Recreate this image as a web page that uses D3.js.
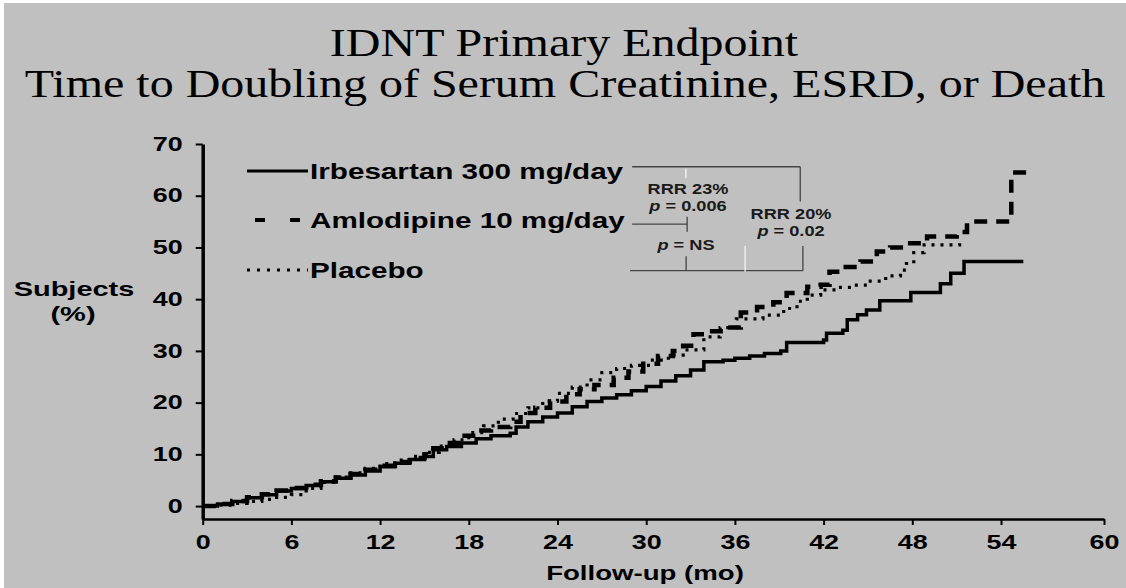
<!DOCTYPE html>
<html lang="en">
<head>
<meta charset="utf-8">
<title>IDNT Primary Endpoint</title>
<script src="https://cdn.jsdelivr.net/npm/d3@7/dist/d3.min.js"></script>
<style>
    body { margin: 0; background: #fff; }
    svg { display: block; }
    .sans { font-family: Arial, "Liberation Sans", sans-serif; font-weight: bold; }
    .serif { font-family: "Times New Roman", "Liberation Serif", serif; }
    .axis path, .axis line { stroke: #000; }
</style>
</head>
<body>
<svg></svg>
<script>
    // months / cumulative %
    var irbesartan = [[0,0],[1,0.4],[2,0.9],[3,1.6],[4,2.2],[5,2.9],[6,3.4],[7,4.0],[8,4.7],[9,5.4],[10,6.0],[11,6.8],[12,7.6],
        [13,8.3],[14,9.0],[15,9.6],[15.6,10.9],[16.5,11.5],[17.5,12.2],[18.5,13.0],[19.5,13.6],[20.8,14.1],[21.2,15.3],[22,16.3],
        [23,17.2],[24,18.0],[25,19.2],[26,20.2],[27,20.9],[28,21.5],[29,22.3],[30,23.1],[31,24.2],[32,25.2],[33,26.3],[33.9,27.9],
        [35.2,28.2],[36,28.6],[37,29.0],[38,29.5],[39.1,30.0],[39.5,31.6],[42,32.1],[42.2,33.4],[43.3,34.0],[43.6,36.0],[44.3,37.0],
        [44.9,37.9],[45.8,39.7],[47.9,41.3],[49.9,43.0],[50.6,45.0],[51.5,47.3],[55.3,47.3]];

    var amlodipine = [[0,0],[1,0.4],[2,1.0],[3,1.7],[4,2.3],[5,3.0],[6,3.5],[7,4.1],[8,4.8],[9,5.5],[10,6.2],[11,7.0],[12,7.8],
        [13,8.5],[14,9.3],[15,10.0],[15.6,11.2],[16.5,12.2],[17.5,13.6],[18.5,14.6],[19.5,15.3],[20.8,16.3],[21.5,18.0],[22.5,19.0],
        [23.5,20.2],[24.6,21.6],[25.5,22.6],[26.5,23.4],[27.8,24.8],[28.8,26.0],[29.8,27.5],[30.8,29.0],[31.8,30.0],[32.5,31.0],
        [33.2,33.2],[34.2,33.8],[35.2,34.5],[36.4,37.4],[37.5,38.5],[38.6,39.4],[39.5,41.2],[40.9,42.4],[41.8,42.8],[42.4,45.3],
        [43.5,46.2],[44.5,47.3],[45.6,49.2],[46.5,50.0],[47.4,50.8],[49,52.1],[51,53.0],[51.7,55.0],[54.6,55.3],[54.6,64.5],[55.8,64.5]];

    var placebo = [[0,0],[1,0.2],[2,0.5],[3,0.9],[4,1.3],[5,1.7],[6,2.2],[7,3.4],[8,4.6],[9,5.6],[10,6.4],[11,7.3],[12,8.2],
        [13,8.9],[14,9.6],[15,10.4],[16,11.6],[17,12.8],[18,14.2],[19,15.5],[20,16.8],[21,17.9],[22,19.0],[23,20.3],[24,21.8],
        [25,23.0],[26,24.4],[27,25.8],[28,26.6],[29,27.2],[30.3,28.2],[31.5,29.2],[32.5,30.2],[33.9,32.7],[35,34.5],[36.1,36.2],
        [37.9,36.9],[39.3,38.2],[40.2,39.6],[40.9,40.8],[41.8,41.8],[43,42.3],[44,42.7],[45,43.5],[46.2,44.5],[47.2,45.6],
        [47.6,46.9],[48.1,49.0],[48.8,50.5],[51.2,50.8]];

    var xTicks = [0, 6, 12, 18, 24, 30, 36, 42, 48, 54, 60];
    var yTicks = [0, 10, 20, 30, 40, 50, 60, 70];
    var seriesNames = ["Irbesartan 300 mg/day", "Amlodipine 10 mg/day", "Placebo"];
    var titleLines = ["IDNT Primary Endpoint", "Time to Doubling of Serum Creatinine, ESRD, or Death"];

    // bracket lines of the p-value annotation, in data units [m1, v1, m2, v2]
    var brackets = [[29.05,65.6,40.42,65.6],[40.42,65.6,40.42,58.9],
        [29.05,54.5,32.77,54.5],[32.77,55.95,32.77,53.05],
        [28.91,45.5,40.6,45.5],[32.7,48.3,32.7,45.5],[40.6,50.3,40.6,45.5]];
    var whiteMarks = [[32.68,65.2,32.68,63.4],[36.69,50.3,36.69,45.3]];

    var W = 1126, H = 588;
    var sx = 1.38; // the bold sans text of the slide is stretched sideways

    var svg = d3.select("svg").attr("width", W).attr("height", H);
    svg.append("rect").attr("x", 4).attr("y", 3).attr("width", W).attr("height", H).attr("fill", "#c0c0c0");

    var x = d3.scaleLinear().domain([0, 54, 60]).range([202.7, 1001, 1104]);
    var y = d3.scaleLinear().domain([-2.5, 70]).range([519, 144]);

    function label(txt, px, py, size, cls, anchor, stretch) {
        return svg.append("text")
            .attr("class", cls)
            .attr("transform", "translate(" + px + "," + py + ") scale(" + (stretch || sx) + ",1)")
            .attr("text-anchor", anchor || "middle")
            .style("font-size", size + "px")
            .text(txt);
    }

    // title
    label(titleLines[0], 564, 56, 40, "serif", "middle", 1.2);
    label(titleLines[1], 565, 97, 40, "serif", "middle", 1.2);

    // axes
    var xAxis = svg.append("g").attr("class", "axis")
        .attr("transform", "translate(0," + y(-2.5) + ")")
        .call(d3.axisBottom(x).tickValues(xTicks).tickSize(6).tickSizeOuter(0).tickPadding(10));
    xAxis.select(".domain").attr("stroke-width", 2.5);
    xAxis.selectAll(".tick line").attr("stroke-width", 2);
    xAxis.selectAll("text")
        .attr("class", "sans")
        .attr("fill", "#000")
        .style("font-size", "19.5px")
        .attr("transform", "scale(" + sx + ",1)");

    var yAxis = svg.append("g").attr("class", "axis")
        .attr("transform", "translate(" + x(0) + ",0)")
        .call(d3.axisLeft(y).tickValues(yTicks).tickSize(7).tickSizeOuter(0));
    yAxis.select(".domain").attr("stroke-width", 3.5);
    yAxis.selectAll(".tick line").attr("stroke-width", 2);
    yAxis.selectAll("text")
        .attr("class", "sans")
        .attr("fill", "#000")
        .style("font-size", "19.5px")
        .attr("x", -20 / sx)
        .attr("transform", "scale(" + sx + ",1)");

    label("Subjects", 74, 296, 21, "sans");
    label("(%)", 73, 321, 21, "sans");
    label("Follow-up (mo)", 645, 580, 20, "sans");

    // curves
    var line = d3.line()
        .x(function (d) { return x(d[0]); })
        .y(function (d) { return y(d[1]); })
        .curve(d3.curveStepAfter);

    var styles = [
        {data: irbesartan, width: 3.5, dash: null},
        {data: amlodipine, width: 4.5, dash: "13,9"},
        {data: placebo, width: 3.2, dash: "3,6"}
    ];

    svg.selectAll(".km")
        .data(styles)
        .enter().append("path")
        .attr("class", "km")
        .attr("d", function (d) { return line(d.data); })
        .attr("fill", "none")
        .attr("stroke", "#000")
        .attr("stroke-width", function (d) { return d.width; })
        .attr("stroke-dasharray", function (d) { return d.dash; });

    // legend
    var legendY = [171, 220, 270];
    var legendDash = [null, "10,25", "3,7"];
    seriesNames.forEach(function (name, i) {
        svg.append("line")
            .attr("x1", i === 1 ? 255 : 247).attr("x2", 308)
            .attr("y1", legendY[i]).attr("y2", legendY[i])
            .attr("stroke", "#000")
            .attr("stroke-width", i === 1 ? 4 : 3)
            .attr("stroke-dasharray", legendDash[i]);
        label(name, 310, legendY[i] + 8, 21.5, "sans", "start");
    });

    // p-value brackets
    svg.selectAll(".bracket")
        .data(brackets)
        .enter().append("line")
        .attr("class", "bracket")
        .attr("x1", function (d) { return x(d[0]); })
        .attr("y1", function (d) { return y(d[1]); })
        .attr("x2", function (d) { return x(d[2]); })
        .attr("y2", function (d) { return y(d[3]); })
        .attr("stroke", "#444")
        .attr("stroke-width", 1.3);
    svg.selectAll(".whitemark")
        .data(whiteMarks)
        .enter().append("line")
        .attr("class", "whitemark")
        .attr("x1", function (d) { return x(d[0]); })
        .attr("y1", function (d) { return y(d[1]); })
        .attr("x2", function (d) { return x(d[2]); })
        .attr("y2", function (d) { return y(d[3]); })
        .attr("stroke", "#f4f4f4")
        .attr("stroke-width", 1.3);

    function pLabel(rest, px, py) {
        var t = label("", px, py, 14, "sans", "middle", 1.3);
        t.attr("fill", "#1a1a1a");
        t.append("tspan").style("font-style", "italic").text("p");
        t.append("tspan").text(rest);
    }
    label("RRR 23%", 688, 194, 14, "sans", "middle", 1.3).attr("fill", "#1a1a1a");
    pLabel(" = 0.006", 688, 211);
    label("RRR 20%", 791, 219, 14, "sans", "middle", 1.3).attr("fill", "#1a1a1a");
    pLabel(" = 0.02", 791, 236);
    pLabel(" = NS", 686, 250);
</script>
</body>
</html>
